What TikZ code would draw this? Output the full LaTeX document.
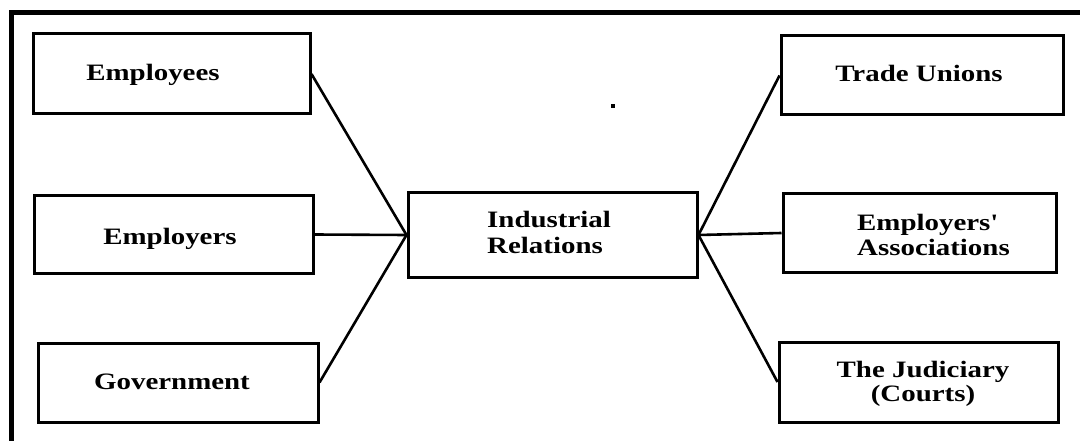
\documentclass[tikz,border=0pt]{standalone}
\usepackage{fontspec}
\setmainfont{Liberation Serif}[FakeStretch=1.23,Ligatures=TeXOff]
\begin{document}
\begin{tikzpicture}[x=1pt,y=-1pt,
  box/.style n args={2}{draw,line width=3pt,inner sep=0pt,minimum width=#1pt,minimum height=#2pt},
  lbl/.style={font=\fontsize{23.5}{25}\selectfont\bfseries,inner sep=0pt},
  conn/.style={line width=2.6pt}]
\useasboundingbox (0,0) rectangle (1080,441);
% outer frame
\draw[line width=4.5pt] (11.5,441) -- (11.5,12.5) -- (1080,12.5);
% boxes
\node[box={277}{80}] (emp) at (171.5,74) {};
\node[box={279}{77}] (empl) at (173.5,234.5) {};
\node[box={280}{79}] (gov) at (178,382.5) {};
\node[box={289}{84}] (ir) at (552.5,235) {};
\node[box={282}{79}] (tu) at (922,75.5) {};
\node[box={273}{78}] (ea) at (919.5,233) {};
\node[box={279}{80}] (jud) at (918.5,382) {};
% texts
\node[lbl,anchor=base] (temp) at (153,81) {Employees};
\node[lbl,anchor=base] (templ) at (170,244) {Employers};
\node[lbl,anchor=base] (tgov) at (172,389) {Government};
\node[lbl,anchor=base] (ttu) at (919,81.5) {Trade Unions};
\node[lbl,anchor=base west,align=left] (tir) at (487,254) {Industrial\\[2pt]Relations};
\node[lbl,anchor=base west,align=left] (tea) at (857,255) {Employers'\\Associations};
\node[lbl,anchor=base,align=center] (tjud) at (923,401) {The Judiciary\\[-1pt](Courts)};
% connectors
\draw[conn] (emp.east) -- (ir.west);
\draw[conn] (empl.east) -- (ir.west);
\draw[conn] (gov.east) -- (ir.west);
\draw[conn] (ir.east) -- (tu.west);
\draw[conn] (ir.east) -- (ea.west);
\draw[conn] (ir.east) -- (jud.west);
% stray dot
\node[fill=black,inner sep=0pt,minimum size=3.5pt] (dot) at (613,106) {};
\end{tikzpicture}
\end{document}
